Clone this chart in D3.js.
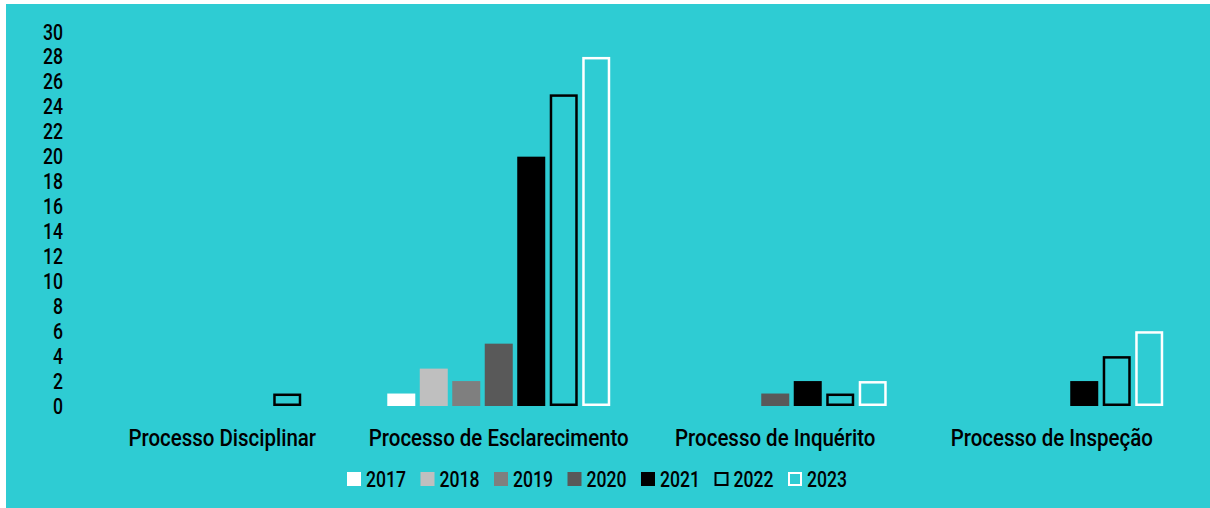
<!DOCTYPE html>
<html>
<head>
<meta charset="utf-8">
<script src="https://cdn.jsdelivr.net/npm/d3@7"></script>
<style>
  html, body { margin: 0; padding: 0; background: #ffffff; }
  svg { display: block; }
  text { font-family: Roboto, "Liberation Sans", Arial, sans-serif; font-weight: 500; fill: #000; }
</style>
</head>
<body>
<svg id="chart" width="1210" height="508"></svg>
<script>
// Number of processes per type and year
const categories = ["Processo Disciplinar", "Processo de Esclarecimento", "Processo de Inquérito", "Processo de Inspeção"];
const years = ["2017", "2018", "2019", "2020", "2021", "2022", "2023"];
const v2017 = [0, 1, 0, 0];
const v2018 = [0, 3, 0, 0];
const v2019 = [0, 2, 0, 0];
const v2020 = [0, 5, 1, 0];
const v2021 = [0, 20, 2, 2];
const v2022 = [1, 25, 1, 4];
const v2023 = [0, 28, 2, 6];
const yTicks = [0, 2, 4, 6, 8, 10, 12, 14, 16, 18, 20, 22, 24, 26, 28, 30];

const seriesValues = [v2017, v2018, v2019, v2020, v2021, v2022, v2023];

// Fill / outline per year
const styles = {
  "2017": { fill: "#ffffff", stroke: null },
  "2018": { fill: "#bfbfbf", stroke: null },
  "2019": { fill: "#7f7f7f", stroke: null },
  "2020": { fill: "#595959", stroke: null },
  "2021": { fill: "#000000", stroke: null },
  "2022": { fill: "none", stroke: "#000000" },
  "2023": { fill: "none", stroke: "#ffffff" }
};

const svg = d3.select("#chart");
const W = 1210, H = 508;
const teal = "#2eccd3";

// Condensed look: horizontal squeeze of the text glyphs
const numScaleX = 0.8;
const labelScaleX = 0.89;

svg.append("rect")
  .attr("x", 6).attr("y", 4)
  .attr("width", W - 6).attr("height", H - 4)
  .attr("fill", teal);

const plot = { left: 84, right: 1190, top: 32, bottom: 406 };

const x0 = d3.scaleBand().domain(categories).range([plot.left, plot.right]).padding(0);
const x1 = d3.scaleBand().domain(years).range([0, x0.bandwidth()])
  .paddingInner(0.138).paddingOuter(0.824);
const y = d3.scaleLinear().domain([0, 30]).range([plot.bottom, plot.top]);

// Y axis labels
const yPad = 21;
const yAxis = svg.append("g")
  .attr("transform", `translate(${plot.left},0)`)
  .call(d3.axisLeft(y).tickValues(yTicks).tickSize(0).tickPadding(yPad).tickFormat(d3.format("d")));
yAxis.select(".domain").remove();
yAxis.selectAll("text")
  .style("font-size", "22px")
  .attr("fill", "#000")
  .attr("x", -yPad / numScaleX)
  .attr("transform", `scale(${numScaleX},1)`);

// Category labels
const xAxis = svg.append("g")
  .attr("transform", `translate(0,${plot.bottom})`)
  .call(d3.axisBottom(x0).tickSize(0).tickPadding(24));
xAxis.select(".domain").remove();
xAxis.selectAll("text")
  .style("font-size", "23px")
  .attr("fill", "#000")
  .attr("transform", `scale(${labelScaleX},1)`);

// Bars
const sw = 2.5;
years.forEach((yr, i) => {
  const st = styles[yr];
  const g = svg.append("g");
  g.selectAll("rect")
    .data(categories.map((c, j) => ({ c, v: seriesValues[i][j] })).filter(d => d.v > 0))
    .join("rect")
    .attr("x", d => x0(d.c) + x1(yr) + (st.stroke ? sw / 2 : 0))
    .attr("y", d => y(d.v) + (st.stroke ? sw / 2 : 0))
    .attr("width", x1.bandwidth() - (st.stroke ? sw : 0))
    .attr("height", d => y(0) - y(d.v) - (st.stroke ? sw : 0))
    .attr("fill", st.fill)
    .attr("stroke", st.stroke || "none")
    .attr("stroke-width", st.stroke ? sw : 0);
});

// Legend
const legendX = d3.scaleBand().domain(years).range([347, 347 + 73.5 * 7]);
const legend = svg.append("g");
years.forEach(yr => {
  const st = styles[yr];
  const gx = legendX(yr);
  const sq = 14;
  legend.append("rect")
    .attr("x", gx + (st.stroke ? 1 : 0))
    .attr("y", 472 + (st.stroke ? 1 : 0))
    .attr("width", sq - (st.stroke ? 2 : 0))
    .attr("height", sq - (st.stroke ? 2 : 0))
    .attr("fill", st.fill)
    .attr("stroke", st.stroke || "none")
    .attr("stroke-width", st.stroke ? 2 : 0);
  legend.append("text")
    .attr("transform", `translate(${gx + 19},487) scale(${numScaleX},1)`)
    .style("font-size", "22px")
    .text(yr);
});
</script>
</body>
</html>
